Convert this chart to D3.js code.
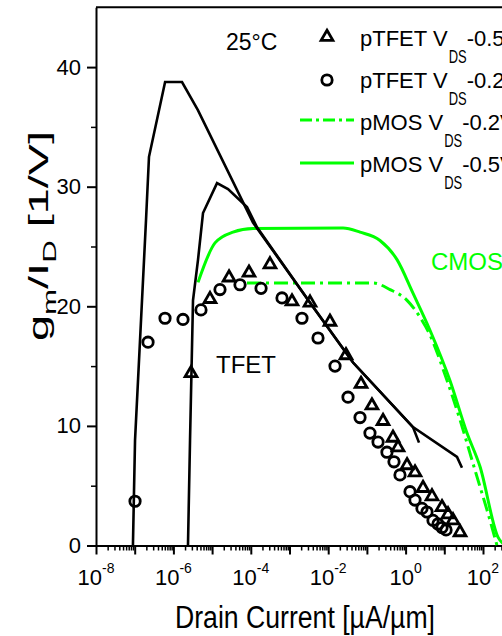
<!DOCTYPE html>
<html>
<head>
<meta charset="utf-8">
<title>gm/ID vs drain current</title>
<script src="https://d3js.org/d3.v7.min.js"></script>
<style>
  body { margin: 0; background: #fff; }
  svg text { font-family: "Liberation Sans", Arial, sans-serif; fill: #000; }
</style>
</head>
<body>
<svg id="chart" width="502" height="636"></svg>
<script>
// drain current in uA/um, gm/ID in 1/V

// black simulation curve with the tall peak
const tfetCurveA_I = [9.0e-8, 1.02e-7, 1.96e-7, 2.34e-7, 6.1e-7, 1.67e-6, 4.3e-6, 1.14e-4, 3.4e-3, 0.0438, 1.55, 21.3, 28.6];
const tfetCurveA_g = [0, 8.8, 27.2, 32.5, 38.75, 38.75, 36.4, 27.0, 20.3, 15.3, 9.9, 7.4, 6.5];

// black simulation curve with the lower peak
const tfetCurveB_I = [2.38e-6, 2.69e-6, 3.21e-6, 4.33e-6, 5.82e-6, 1.34e-5, 2.58e-5, 7.98e-5, 1.45e-4, 3.4e-3, 0.0438, 1.55, 2.22];
const tfetCurveB_g = [0, 8.8, 20.5, 23.9, 27.8, 30.3, 29.8, 28.3, 26.6, 20.3, 15.3, 9.9, 8.6];

// pMOS VDS -0.5 (solid green)
const pmos05_I = [4.33e-6, 1.19e-5, 3.47e-5, 1.14e-4, 0.0242, 0.0664, 0.218, 0.600, 1.55, 4.27, 14.0, 38.6, 83.6, 244, 370];
const pmos05_g = [22.0, 25.3, 26.2, 26.5, 26.55, 26.2, 25.5, 23.9, 21.1, 18.0, 13.8, 9.4, 6.6, 0.7, 0];

// pMOS VDS -0.2 (dash-dot green)
const pmos02_I = [7.98e-5, 0.144, 0.396, 1.09, 2.35, 4.27, 10.4, 25.5, 62.1, 152, 230];
const pmos02_g = [21.95, 21.95, 21.4, 20.5, 19.1, 17.6, 14.3, 10.5, 6.3, 2.1, 0];

// pTFET VDS -0.5 (triangles)
const ptfet05_I = [2.85e-6, 8.83e-6, 2.74e-5, 8.98e-5, 3.13e-4, 1.16e-3, 3.39e-3, 0.0111, 0.0288, 0.0705, 0.135, 0.261, 0.472, 0.637, 1.09, 1.75, 2.82, 4.81, 8.73, 12.5, 16.8, 25.5];
const ptfet05_g = [14.4, 20.6, 22.4, 22.8, 23.5, 20.4, 20.3, 18.7, 15.9, 13.5, 11.7, 10.4, 9.0, 8.2, 6.7, 6.1, 4.8, 4.1, 3.2, 2.6, 2.1, 1.1];

// pTFET VDS -0.2 (circles)
const ptfet02_I = [1.02e-7, 2.21e-7, 6.07e-7, 1.77e-6, 5.16e-6, 1.60e-5, 5.26e-5, 1.84e-4, 6.40e-4, 2.10e-3, 5.45e-3, 0.0150, 0.0325, 0.0664, 0.120, 0.194, 0.330, 0.501, 0.716, 1.30, 1.75, 2.65, 3.57, 5.11, 6.87, 8.73, 11.1];
const ptfet02_g = [3.7, 17.0, 19.0, 18.9, 19.7, 21.4, 21.8, 21.5, 20.7, 19.0, 17.35, 15.0, 12.4, 10.7, 9.4, 8.65, 7.8, 7.0, 5.9, 4.5, 3.8, 3.1, 2.8, 2.1, 1.8, 1.5, 1.3];

const xDecades = [-8, -7, -6, -5, -4, -3, -2, -1, 0, 1, 2, 3];
const xLabelExps = [-8, -6, -4, -2, 0, 2];
const yMajorTicks = [0, 10, 20, 30, 40];
const yMinorTicks = [5, 15, 25, 35];

const legendNames = ["pTFET V", "pTFET V", "pMOS V", "pMOS V"];
const legendVds = ["-0.5V", "-0.2V", "-0.2V", "-0.5V"];

const green = "#00ff00";

let svg = d3.select("svg#chart");

const xScale = d3.scaleLog().domain([1e-8, 1e3]).range([96, 96 + 11 * 38.7]);
const yScale = d3.scaleLinear().domain([0, 45]).range([545.5, 7.3]);

const zip = (xs, ys) => xs.map((x, i) => [x, ys[i]]);

// minor x ticks (2..9 in each decade)
let minorX = [];
xDecades.forEach(e => { for (let k = 2; k <= 9; k++) minorX.push(k * Math.pow(10, e)); });
minorX = minorX.filter(v => v < 1e3);

svg.append("g")
    .attr("transform", `translate(0, ${yScale(0)})`)
    .call(d3.axisBottom(xScale).tickValues(minorX).tickSize(5).tickSizeOuter(0).tickFormat(""))
    .call(g => g.select(".domain").remove())
    .selectAll("line").attr("stroke", "#000").attr("stroke-width", 1.5);

svg.append("g")
    .attr("transform", `translate(0, ${yScale(0)})`)
    .call(d3.axisBottom(xScale).tickValues(xDecades.map(e => Math.pow(10, e))).tickSize(9).tickSizeOuter(0).tickFormat(""))
    .call(g => g.select(".domain").attr("stroke-width", 2))
    .selectAll("line").attr("stroke", "#000").attr("stroke-width", 2);

// x tick labels 10^n
let xLab = svg.append("g").selectAll("text").data(xLabelExps).join("text")
    .attr("x", d => xScale(Math.pow(10, d)))
    .attr("y", 585)
    .attr("text-anchor", "middle")
    .style("font-size", "22px");
xLab.append("tspan").text("10");
xLab.append("tspan").attr("dy", -12).style("font-size", "14px").text(d => d);

// y axis
svg.append("g")
    .attr("transform", "translate(96, 0)")
    .call(d3.axisLeft(yScale).tickValues(yMinorTicks).tickSize(5).tickSizeOuter(0).tickFormat(""))
    .call(g => g.select(".domain").remove())
    .selectAll("line").attr("stroke-width", 1.5);

svg.append("g")
    .attr("transform", "translate(96, 0)")
    .call(d3.axisLeft(yScale).tickValues(yMajorTicks).tickSize(9).tickSizeOuter(0).tickPadding(6))
    .call(g => g.select(".domain").attr("stroke-width", 2))
    .call(g => g.selectAll("line").attr("stroke-width", 2))
    .call(g => g.selectAll("text").style("font-size", "22px").attr("font-family", null));

// top and right frame
svg.append("line")
    .attr("x1", xScale(1e-8)).attr("x2", xScale(1e3))
    .attr("y1", yScale(45)).attr("y2", yScale(45))
    .attr("stroke", "#000").attr("stroke-width", 2);
svg.append("line")
    .attr("x1", xScale(1e3)).attr("x2", xScale(1e3))
    .attr("y1", yScale(45)).attr("y2", yScale(0))
    .attr("stroke", "#000").attr("stroke-width", 2);

// curves
const line = d3.line().x(d => xScale(d[0])).y(d => yScale(d[1]));
const smooth = d3.line().x(d => xScale(d[0])).y(d => yScale(d[1])).curve(d3.curveMonotoneX);

svg.append("path").datum(zip(pmos05_I, pmos05_g))
    .attr("d", smooth).attr("fill", "none").attr("stroke", green).attr("stroke-width", 3);
svg.append("path").datum(zip(pmos02_I, pmos02_g))
    .attr("d", smooth).attr("fill", "none").attr("stroke", green).attr("stroke-width", 3)
    .attr("stroke-dasharray", "14,5,3,5");

svg.append("path").datum(zip(tfetCurveA_I, tfetCurveA_g))
    .attr("d", line).attr("fill", "none").attr("stroke", "#000").attr("stroke-width", 2.6);
svg.append("path").datum(zip(tfetCurveB_I, tfetCurveB_g))
    .attr("d", line).attr("fill", "none").attr("stroke", "#000").attr("stroke-width", 2.6);

// markers
const triangle = d3.symbol(d3.symbolTriangle, 60);
svg.append("g").selectAll("path").data(zip(ptfet05_I, ptfet05_g)).join("path")
    .attr("transform", d => `translate(${xScale(d[0])}, ${yScale(d[1])})`)
    .attr("d", triangle)
    .attr("fill", "none").attr("stroke", "#000").attr("stroke-width", 2.8);

svg.append("g").selectAll("circle").data(zip(ptfet02_I, ptfet02_g)).join("circle")
    .attr("cx", d => xScale(d[0]))
    .attr("cy", d => yScale(d[1]))
    .attr("r", 5.2)
    .attr("fill", "none").attr("stroke", "#000").attr("stroke-width", 2.8);

// annotations
svg.append("text").attr("x", 226).attr("y", 50).style("font-size", "23px").text("25°C");
svg.append("text").attr("x", 216).attr("y", 373).style("font-size", "24px").text("TFET");
svg.append("text").attr("x", 431).attr("y", 270).style("font-size", "24px").style("fill", green).text("CMOS");

// legend
const rowBase = [46, 88, 130, 172];
let leg = svg.append("g").selectAll("text").data(legendNames).join("text")
    .attr("x", 360)
    .attr("y", (d, i) => rowBase[i])
    .style("font-size", "22px");
leg.append("tspan").text(d => d);
leg.append("tspan").attr("dy", 17).attr("dx", 1)
    .attr("textLength", 18).attr("lengthAdjust", "spacingAndGlyphs")
    .style("font-size", "19px").text("DS");
leg.append("tspan").attr("dy", -17).text((d, i) => legendVds[i]);

svg.append("path")
    .attr("transform", `translate(327, ${rowBase[0] - 9})`)
    .attr("d", triangle)
    .attr("fill", "none").attr("stroke", "#000").attr("stroke-width", 2.8);
svg.append("circle")
    .attr("cx", 327).attr("cy", rowBase[1] - 8).attr("r", 5.2)
    .attr("fill", "none").attr("stroke", "#000").attr("stroke-width", 2.8);
svg.append("line")
    .attr("x1", 300).attr("x2", 354).attr("y1", rowBase[2] - 10).attr("y2", rowBase[2] - 10)
    .attr("stroke", green).attr("stroke-width", 3).attr("stroke-dasharray", "12,4,3,4");
svg.append("line")
    .attr("x1", 300).attr("x2", 354).attr("y1", rowBase[3] - 9).attr("y2", rowBase[3] - 9)
    .attr("stroke", green).attr("stroke-width", 3);

// axis titles
svg.append("text")
    .attr("x", 175).attr("y", 628)
    .attr("textLength", 260).attr("lengthAdjust", "spacingAndGlyphs")
    .style("font-size", "31px")
    .text("Drain Current [µA/µm]");

let yTitle = svg.append("text")
    .attr("transform", "translate(48, 236) rotate(-90)")
    .attr("text-anchor", "middle")
    .attr("textLength", 210).attr("lengthAdjust", "spacingAndGlyphs")
    .style("font-size", "27px");
yTitle.append("tspan").text("g");
yTitle.append("tspan").attr("dy", 8).style("font-size", "18px").text("m");
yTitle.append("tspan").attr("dy", -8).text("/I");
yTitle.append("tspan").attr("dy", 8).style("font-size", "18px").text("D");
yTitle.append("tspan").attr("dy", -8).text(" [1/V]");
</script>
</body>
</html>
